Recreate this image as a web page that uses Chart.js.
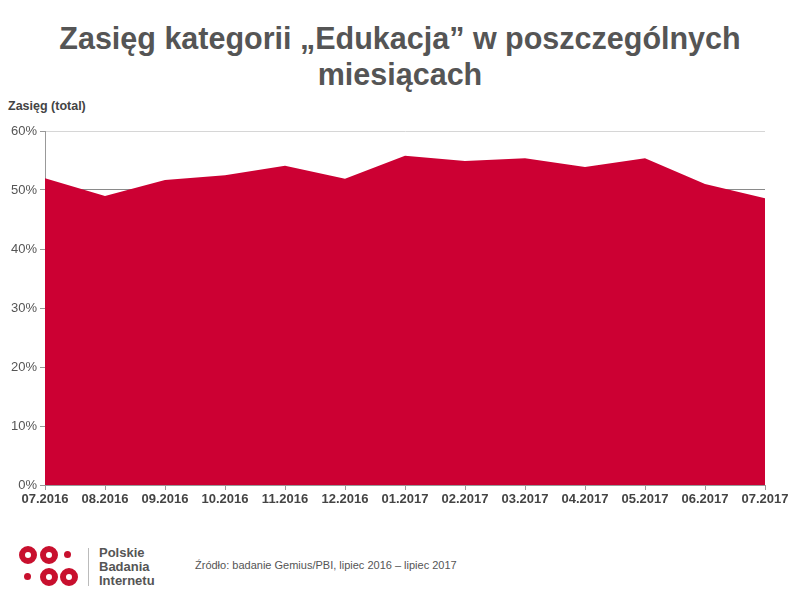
<!DOCTYPE html>
<html>
<head>
<meta charset="utf-8">
<script src="https://cdn.jsdelivr.net/npm/chart.js@4"></script>
<style>
  body { margin: 0; width: 800px; height: 600px; background: #fff; font-family: "Liberation Sans", Arial, sans-serif; position: relative; overflow: hidden; }
  h1 { position: absolute; top: 20px; left: 0; width: 800px; margin: 0; text-align: center; font-size: 30.5px; line-height: 36px; font-weight: bold; color: #555; }
  .ytitle { position: absolute; left: 8px; top: 99px; font-size: 12.5px; font-weight: bold; color: #444; }
  .chart-box { position: absolute; left: 0; top: 120px; width: 800px; height: 400px; }
  .logo { position: absolute; left: 18px; top: 545px; width: 70px; height: 42px; }
  .ring { position: absolute; width: 6px; height: 6px; border: 6px solid #c8102e; border-radius: 50%; background: #fff; }
  .dot { position: absolute; width: 7px; height: 7px; background: #c8102e; border-radius: 50%; }
  .sep { position: absolute; left: 88px; top: 548px; width: 1px; height: 38px; background: #bbb; }
  .brand { position: absolute; left: 99px; top: 546px; font-size: 13px; line-height: 14px; font-weight: bold; color: #555; }
  .source { position: absolute; left: 195px; top: 559px; font-size: 11px; color: #555; }
</style>
</head>
<body>
<h1>Zasięg kategorii „Edukacja” w poszczególnych<br>miesiącach</h1>
<div class="ytitle">Zasięg (total)</div>
<div class="chart-box"><canvas id="chart"></canvas></div>
<div class="logo">
  <div class="ring" style="left:1px; top:1px;"></div>
  <div class="ring" style="left:22px; top:1px;"></div>
  <div class="dot" style="left:46px; top:6px;"></div>
  <div class="dot" style="left:6px; top:28px;"></div>
  <div class="ring" style="left:22px; top:23px;"></div>
  <div class="ring" style="left:42px; top:23px;"></div>
</div>
<div class="sep"></div>
<div class="brand">Polskie<br>Badania<br>Internetu</div>
<div class="source">Źródło: badanie Gemius/PBI, lipiec 2016 – lipiec 2017</div>
<script>
const months = ['07.2016', '08.2016', '09.2016', '10.2016', '11.2016', '12.2016',
  '01.2017', '02.2017', '03.2017', '04.2017', '05.2017', '06.2017', '07.2017'];
const reach = [52.0, 49.0, 51.7, 52.5, 54.1, 51.9, 55.8, 54.9, 55.4, 53.9, 55.4, 51.0, 48.6];
const yTicks = [0, 10, 20, 30, 40, 50, 60];

const FONT = 'Liberation Sans';

new Chart(document.getElementById('chart'), {
  type: 'line',
  data: {
    labels: months,
    datasets: [{
      label: 'Zasięg',
      data: reach,
      fill: 'origin',
      backgroundColor: '#cc0033',
      borderWidth: 0,
      pointRadius: 0,
      tension: 0,
    }],
  },
  options: {
    responsive: true,
    maintainAspectRatio: false,
    animation: false,
    layout: { padding: { top: 11, right: 35, left: 0, bottom: 0 } },
    scales: {
      x: {
        offset: false,
        grid: { drawOnChartArea: false, drawTicks: true, tickLength: 5, color: '#999' },
        border: { display: true, color: '#999' },
        ticks: {
          font: { family: FONT, size: 13, weight: 'bold' },
          color: '#444',
          maxRotation: 0,
          autoSkip: false,
          padding: 2,
        },
        afterFit: s => { s.height = 35; },
      },
      y: {
        min: 0,
        max: 60,
        afterBuildTicks: s => { s.ticks = yTicks.map(v => ({ value: v })); },
        grid: {
          color: ctx => (ctx.tick && ctx.tick.value === 60) ? '#d6d6d6' : '#8a8a8a',
          tickLength: 5,
          tickColor: '#999',
        },
        border: { display: true, color: '#999' },
        ticks: {
          callback: v => v + '%',
          font: { family: FONT, size: 13 },
          color: '#555',
          padding: 3,
        },
        afterFit: s => { s.width = 45; },
      },
    },
    plugins: {
      legend: { display: false },
      tooltip: { enabled: false },
    },
  },
});
</script>
</body>
</html>
